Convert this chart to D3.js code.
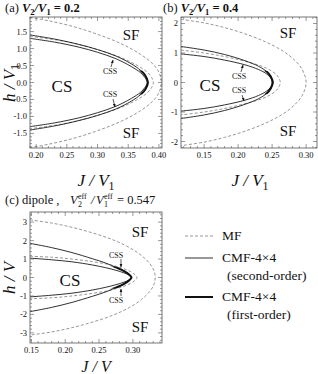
<!DOCTYPE html>
<html><head><meta charset="utf-8">
<script src="https://cdn.jsdelivr.net/npm/d3@7"></script>
<style>body{margin:0;background:#fff} text{font-family:"Liberation Serif","DejaVu Serif",serif;fill:#111}</style>
</head><body><svg id="c" width="318" height="374" xmlns="http://www.w3.org/2000/svg"></svg>
<script>
// ---------- data (upper branch, J -> h; lower branch is symmetric h -> -h) ----------
// Panel (a) V2/V1 = 0.2
const aMfOuterJ = [0.19, 0.22, 0.26, 0.30, 0.34, 0.37, 0.39, 0.400, 0.404];
const aMfOuterH = [1.92, 1.82, 1.65, 1.42, 1.13, 0.83, 0.55, 0.30, 0];
const aMfInnerJ = [0.19, 0.25, 0.30, 0.34, 0.365, 0.38, 0.388, 0.391];
const aMfInnerH = [1.36, 1.20, 0.97, 0.72, 0.50, 0.32, 0.15, 0];
const aCmfOuterJ = [0.19, 0.23, 0.27, 0.30, 0.33, 0.355, 0.37, 0.378, 0.382];
const aCmfOuterH = [1.40, 1.28, 1.12, 0.97, 0.78, 0.55, 0.36, 0.20, 0];
const aCmfInnerJ = [0.19, 0.23, 0.27, 0.30, 0.33, 0.355, 0.37, 0.377, 0.381];
const aCmfInnerH = [1.30, 1.19, 1.04, 0.89, 0.70, 0.47, 0.29, 0.15, 0];
const aFirstOrderH = 0.35;
const aXTicks = [0.20, 0.25, 0.30, 0.35, 0.40];
const aXLabels = ["0.20", "0.25", "0.30", "0.35", "0.40"];
const aYTicks = [1.5, 1.0, 0.5, 0, -0.5, -1.0, -1.5];
const aYLabels = ["1.5", "1.0", "0.5", "0.0", "-0.5", "-1.0", "-1.5"];

// Panel (b) V2/V1 = 0.4
const bMfOuterJ = [0.116, 0.15, 0.18, 0.21, 0.24, 0.265, 0.282, 0.294, 0.300];
const bMfOuterH = [2.14, 2.02, 1.86, 1.65, 1.38, 1.08, 0.78, 0.45, 0];
const bMfInnerJ = [0.116, 0.15, 0.18, 0.21, 0.235, 0.25, 0.258, 0.262];
const bMfInnerH = [1.10, 1.00, 0.88, 0.72, 0.55, 0.38, 0.22, 0];
const bCmfOuterJ = [0.116, 0.15, 0.18, 0.21, 0.23, 0.242, 0.248, 0.251];
const bCmfOuterH = [1.22, 1.10, 0.95, 0.74, 0.55, 0.37, 0.20, 0];
const bCmfInnerJ = [0.116, 0.15, 0.18, 0.21, 0.23, 0.242, 0.248, 0.250];
const bCmfInnerH = [0.97, 0.88, 0.76, 0.60, 0.44, 0.29, 0.15, 0];
const bFirstOrderH = 0.4;
const bXTicks = [0.15, 0.20, 0.25, 0.30];
const bXLabels = ["0.15", "0.20", "0.25", "0.30"];
const bYTicks = [2, 1, 0, -1, -2];
const bYLabels = ["2", "1", "0", "-1", "-2"];

// Panel (c) dipole, V2eff/V1eff = 0.547
const cMfOuterJ = [0.148, 0.18, 0.21, 0.24, 0.27, 0.295, 0.313, 0.325, 0.331, 0.333];
const cMfOuterH = [3.12, 2.95, 2.72, 2.42, 2.05, 1.62, 1.18, 0.75, 0.38, 0];
const cMfInnerJ = [0.148, 0.18, 0.21, 0.24, 0.265, 0.283, 0.296, 0.303, 0.306];
const cMfInnerH = [1.15, 1.10, 1.00, 0.86, 0.70, 0.52, 0.33, 0.16, 0];
const cCmfOuterJ = [0.148, 0.18, 0.21, 0.24, 0.26, 0.275, 0.287, 0.294, 0.298];
const cCmfOuterH = [1.85, 1.62, 1.35, 1.02, 0.78, 0.55, 0.35, 0.18, 0];
const cCmfInnerJ = [0.148, 0.18, 0.21, 0.24, 0.26, 0.275, 0.287, 0.294, 0.297];
const cCmfInnerH = [1.05, 0.96, 0.85, 0.68, 0.53, 0.39, 0.25, 0.13, 0];
const cFirstOrderH = 0.6;
const cXTicks = [0.15, 0.20, 0.25, 0.30];
const cXLabels = ["0.15", "0.20", "0.25", "0.30"];
const cYTicks = [3, 2, 1, 0, -1, -2, -3];
const cYLabels = ["3", "2", "1", "0", "-1", "-2", "-3"];

// ---------- drawing ----------
const svg = d3.select("#c");
const defs = svg.append("defs");
defs.append("marker").attr("id", "arr").attr("viewBox", "0 0 10 10").attr("refX", 9).attr("refY", 5)
  .attr("markerWidth", 5).attr("markerHeight", 5).attr("orient", "auto")
  .append("path").attr("d", "M0,1 L10,5 L0,9 z").attr("fill", "#111");

function branch(J, H) {
  const up = J.map((j, i) => [j, H[i]]);
  const down = J.slice(0, -1).map((j, i) => [j, -H[i]]).reverse();
  return up.concat(down);
}

let clipN = 0;
function panel(o) {
  const x = d3.scaleLinear().domain(o.xd).range([o.x0, o.x1]);
  const y = d3.scaleLinear().domain(o.yd).range([o.y1, o.y0]);
  const g = svg.append("g");
  const cid = "clip" + (clipN++);
  defs.append("clipPath").attr("id", cid).append("rect")
    .attr("x", o.x0).attr("y", o.y0).attr("width", o.x1 - o.x0).attr("height", o.y1 - o.y0);
  const line = d3.line().x(d => x(d[0])).y(d => y(d[1])).curve(d3.curveCatmullRom.alpha(0.5));
  const cg = g.append("g").attr("clip-path", `url(#${cid})`);
  const dashed = {fill: "none", stroke: "#8a8a8a", "stroke-width": 0.9, "stroke-dasharray": "3,2"};
  const solid = {fill: "none", stroke: "#1a1a1a", "stroke-width": 0.9};
  function draw(data, st) {
    const p = cg.append("path").attr("d", line(data));
    for (const k in st) p.attr(k, st[k]);
    return p;
  }
  draw(branch(o.mfOuter[0], o.mfOuter[1]), dashed);
  draw(branch(o.mfInner[0], o.mfInner[1]), dashed);
  draw(branch(o.cmfInner[0], o.cmfInner[1]), solid);
  draw(branch(o.cmfOuter[0], o.cmfOuter[1]), solid);
  // thick (first-order) part near the tip
  const tid = "clip" + (clipN++);
  defs.append("clipPath").attr("id", tid).append("rect")
    .attr("x", o.x0).attr("y", y(o.firstH)).attr("width", o.x1 - o.x0).attr("height", y(-o.firstH) - y(o.firstH));
  g.append("g").attr("clip-path", `url(#${tid})`).append("path")
    .attr("d", line(branch(o.cmfOuter[0], o.cmfOuter[1])))
    .attr("fill", "none").attr("stroke", "#111").attr("stroke-width", 2);

  // frame
  g.append("rect").attr("x", o.x0).attr("y", o.y0).attr("width", o.x1 - o.x0).attr("height", o.y1 - o.y0)
    .attr("fill", "none").attr("stroke", "#555").attr("stroke-width", 0.8);
  // ticks
  const tk = g.append("g").attr("stroke", "#555").attr("stroke-width", 0.6);
  const xMinor = x.ticks(o.xMinorN), yMinor = y.ticks(o.yMinorN);
  xMinor.forEach(v => {
    const X = x(v), big = o.xTicks.some(t => Math.abs(t - v) < 1e-6);
    const L = big ? 4 : 2;
    tk.append("line").attr("x1", X).attr("x2", X).attr("y1", o.y1).attr("y2", o.y1 - L);
    tk.append("line").attr("x1", X).attr("x2", X).attr("y1", o.y0).attr("y2", o.y0 + L);
  });
  yMinor.forEach(v => {
    const Y = y(v), big = o.yTicks.some(t => Math.abs(t - v) < 1e-6);
    const L = big ? 4 : 2;
    tk.append("line").attr("y1", Y).attr("y2", Y).attr("x1", o.x0).attr("x2", o.x0 + L);
    tk.append("line").attr("y1", Y).attr("y2", Y).attr("x1", o.x1).attr("x2", o.x1 - L);
  });
  o.xTicks.forEach((v, i) => g.append("text").attr("x", x(v)).attr("y", o.y1 + 10)
    .attr("text-anchor", "middle").attr("font-size", 8.5).text(o.xLabels[i]));
  o.yTicks.forEach((v, i) => g.append("text").attr("x", o.x0 - 3).attr("y", y(v) + 3)
    .attr("text-anchor", "end").attr("font-size", 8.5).text(o.yLabels[i]));
  return {x, y, g};
}

function arrow(x1, y1, x2, y2) {
  svg.append("line").attr("x1", x1).attr("y1", y1).attr("x2", x2).attr("y2", y2)
    .attr("stroke", "#111").attr("stroke-width", 0.7).attr("marker-end", "url(#arr)");
}
function label(x, y, t, size, anchor) {
  return svg.append("text").attr("x", x).attr("y", y).attr("font-size", size)
    .attr("text-anchor", anchor || "middle").text(t);
}

// Panel (a)
panel({x0: 30, x1: 162, y0: 17, y1: 148, xd: [0.19, 0.405], yd: [-1.93, 1.93],
  mfOuter: [aMfOuterJ, aMfOuterH], mfInner: [aMfInnerJ, aMfInnerH],
  cmfOuter: [aCmfOuterJ, aCmfOuterH], cmfInner: [aCmfInnerJ, aCmfInnerH], firstH: aFirstOrderH,
  xTicks: aXTicks, xLabels: aXLabels, yTicks: aYTicks, yLabels: aYLabels, xMinorN: 20, yMinorN: 40});
// Panel (b)
panel({x0: 181, x1: 317, y0: 17, y1: 148, xd: [0.116, 0.316], yd: [-2.22, 2.22],
  mfOuter: [bMfOuterJ, bMfOuterH], mfInner: [bMfInnerJ, bMfInnerH],
  cmfOuter: [bCmfOuterJ, bCmfOuterH], cmfInner: [bCmfInnerJ, bCmfInnerH], firstH: bFirstOrderH,
  xTicks: bXTicks, xLabels: bXLabels, yTicks: bYTicks, yLabels: bYLabels, xMinorN: 20, yMinorN: 20});
// Panel (c)
panel({x0: 30, x1: 162, y0: 212, y1: 343, xd: [0.148, 0.343], yd: [-3.55, 3.55],
  mfOuter: [cMfOuterJ, cMfOuterH], mfInner: [cMfInnerJ, cMfInnerH],
  cmfOuter: [cCmfOuterJ, cCmfOuterH], cmfInner: [cCmfInnerJ, cCmfInnerH], firstH: cFirstOrderH,
  xTicks: cXTicks, xLabels: cXLabels, yTicks: cYTicks, yLabels: cYLabels, xMinorN: 20, yMinorN: 30});

// titles
function title(x, y, tag, val) {
  const t = svg.append("text").attr("x", x).attr("y", y).attr("font-size", 12.5);
  t.append("tspan").text(tag + "  ");
  t.append("tspan").attr("font-style", "italic").attr("font-weight", "bold").text("V");
  t.append("tspan").attr("font-size", 8.5).attr("dy", 3).attr("font-weight", "bold").text("2");
  t.append("tspan").attr("dy", -3).attr("font-style", "italic").attr("font-weight", "bold").text("/V");
  t.append("tspan").attr("font-size", 8.5).attr("dy", 3).attr("font-weight", "bold").text("1");
  t.append("tspan").attr("dy", -3).attr("font-weight", "bold").text(" = " + val);
}
title(5, 12, "(a)", "0.2");
title(163, 12, "(b)", "0.4");

// (c) title
label(5, 204, "(c) dipole ,", 12.5, "start");
label(70, 204, "V", 12.5, "start").attr("font-style", "italic");
label(78, 207, "2", 8, "start");
label(78, 199, "eff", 8, "start");
label(91, 204, "/", 12.5, "start").attr("font-style", "italic");
label(96, 204, "V", 12.5, "start").attr("font-style", "italic");
label(104, 207, "1", 8, "start");
label(104, 199, "eff", 8, "start");
label(117, 204, "= 0.547", 12.5, "start");

// axis labels
function axLabel(x, y, main, sub, rot, size) {
  const t = svg.append("text").attr("font-size", size || 17).attr("font-style", "italic").attr("text-anchor", "middle")
    .attr("transform", `translate(${x},${y})` + (rot ? " rotate(-90)" : ""));
  t.append("tspan").text(main);
  if (sub) t.append("tspan").attr("font-style", "normal").attr("font-size", 12).attr("dy", 4).text(sub);
}
axLabel(96, 186, "J / V", "1", false);
axLabel(250, 186, "J / V", "1", false);
axLabel(96, 372, "J / V", "", false, 16);
axLabel(15, 83, "h / V", "1", true);
axLabel(15, 278, "h / V", "", true);

// region labels (a)
label(131, 40, "SF", 15);
label(62, 92, "CS", 17);
label(131, 138, "SF", 15);
label(110, 74, "CSS", 8);
arrow(111, 67, 113, 60);
label(110, 97, "CSS", 8);
arrow(113, 99, 115, 107);
// region labels (b)
label(288, 38, "SF", 15);
label(210, 91, "CS", 17);
label(288, 136, "SF", 15);
label(239, 79, "CSS", 8);
arrow(241, 72, 243, 65);
label(239, 93, "CSS", 8);
arrow(242, 95, 244, 101);
// region labels (c)
label(140, 237, "SF", 15);
label(70, 286, "CS", 17);
label(140, 332, "SF", 15);
label(116, 258, "CSS", 8);
arrow(121, 259, 121, 267);
label(116, 303, "CSS", 8);
arrow(121, 296, 121, 289);

// legend
const lg = svg.append("g");
lg.append("line").attr("x1", 185).attr("x2", 213).attr("y1", 236).attr("y2", 236)
  .attr("stroke", "#8a8a8a").attr("stroke-width", 0.9).attr("stroke-dasharray", "3,2");
label(222, 240, "MF", 13.5, "start");
lg.append("line").attr("x1", 185).attr("x2", 213).attr("y1", 258).attr("y2", 258)
  .attr("stroke", "#1a1a1a").attr("stroke-width", 0.9);
label(222, 262, "CMF-4×4", 13.5, "start");
label(227, 280, "(second-order)", 13.5, "start");
lg.append("line").attr("x1", 185).attr("x2", 213).attr("y1", 297).attr("y2", 297)
  .attr("stroke", "#111").attr("stroke-width", 2);
label(222, 301, "CMF-4×4", 13.5, "start");
label(227, 319, "(first-order)", 13.5, "start");
</script></body></html>
